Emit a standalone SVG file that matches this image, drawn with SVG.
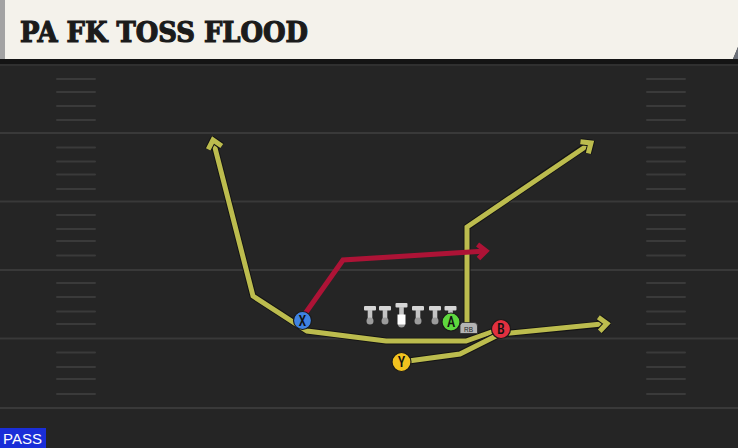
<svg xmlns="http://www.w3.org/2000/svg" width="738" height="448" viewBox="0 0 738 448">
<defs>
<style>
.major{stroke:#393939;stroke-width:2;}
.hash{stroke:#3a3a3a;stroke-width:2;stroke-linecap:round;}
.rt-o{fill:none;stroke:#141414;stroke-width:7;stroke-linejoin:miter;}
.rt-y{fill:none;stroke:#bcbc4e;stroke-width:5;stroke-linejoin:miter;}
.rt-r{fill:none;stroke:#ad1336;stroke-width:5;stroke-linejoin:miter;}
.lbl{font-family:"Roboto Condensed","Liberation Sans Narrow","Liberation Sans",sans-serif;font-size:14px;font-weight:500;fill:#111;text-anchor:middle;}
.bar{fill:#d6d6d6;}
.stem{fill:#c4c4c4;}
.ball{fill:#9c9c9c;}
.pc{stroke:#1a1a1a;stroke-width:1.2;}
</style>
<marker id="ay" viewBox="-14 -12 18 24" refX="0" refY="0" markerWidth="18" markerHeight="24" markerUnits="userSpaceOnUse" orient="auto">
<path d="M-8,-7 L0,0 L-8,7" fill="none" stroke="#141414" stroke-width="7"/>
<path d="M-8,-7 L0,0 L-8,7" fill="none" stroke="#bcbc4e" stroke-width="5"/>
</marker>
<marker id="ar" viewBox="-14 -12 18 24" refX="0" refY="0" markerWidth="18" markerHeight="24" markerUnits="userSpaceOnUse" orient="auto">
<path d="M-8,-7 L0,0 L-8,7" fill="none" stroke="#ad1336" stroke-width="5"/>
</marker>
</defs>

<!-- field -->
<rect x="0" y="0" width="738" height="448" fill="#252525"/>
<rect x="0" y="59" width="738" height="5" fill="#141414"/>
<line x1="0" y1="65" x2="738" y2="65" stroke="#303030" stroke-width="2"/>
<g id="yardlines">
<line class="major" x1="0" y1="133" x2="738" y2="133"/>
<line class="major" x1="0" y1="201.5" x2="738" y2="201.5"/>
<line class="major" x1="0" y1="270" x2="738" y2="270"/>
<line class="major" x1="0" y1="338.5" x2="738" y2="338.5"/>
<line class="major" x1="0" y1="408" x2="738" y2="408"/>
</g>
<g id="hashes">
<path class="hash" d="M57,79H95M57,92H95M57,106H95M57,120H95 M57,147.5H95M57,161.5H95M57,174.5H95M57,189H95 M57,215H95M57,229H95M57,241H95M57,255.5H95 M57,283H95M57,297H95M57,311.5H95M57,324H95 M57,352.5H95M57,367H95M57,379H95M57,394H95"/>
<path class="hash" d="M647,79H685M647,92H685M647,106H685M647,120H685 M647,147.5H685M647,161.5H685M647,174.5H685M647,189H685 M647,215H685M647,229H685M647,241H685M647,255.5H685 M647,283H685M647,297H685M647,311.5H685M647,324H685 M647,352.5H685M647,367H685M647,379H685M647,394H685"/>
</g>

<!-- header -->
<g id="header">
<path d="M0,0 H738 V47 L733,59 H0 Z" fill="#f4f2eb"/>
<path d="M738,47 L733,59 H738 Z" fill="#6b6f78"/>
<rect x="0" y="0" width="5" height="59" fill="#a3a3a3"/>
<text x="20" y="42" font-family="'DejaVu Serif',serif" font-weight="bold" font-size="27.5" fill="#1b1b1b" stroke="#1b1b1b" stroke-width="1.2" textLength="288" lengthAdjust="spacingAndGlyphs">PA FK TOSS FLOOD</text>
</g>

<!-- connectors -->
<g id="connectors">
<polyline class="rt-o" points="500,329 466,341 386,341 307,331 253,296 213.5,142"/>
<polyline class="rt-y" points="500,329 466,341 386,341 307,331 253,296 213,140" marker-end="url(#ay)"/>
<polyline class="rt-o" points="401,362 460,354 500,334 605,324"/>
<polyline class="rt-y" points="401,362 460,354 500,334 607,323.5" marker-end="url(#ay)"/>
<polyline class="rt-o" points="467,329 467,227 589,144"/>
<polyline class="rt-y" points="467,329 467,227 591,143" marker-end="url(#ay)"/>
<polyline class="rt-r" points="302,318 343,260 486,251" marker-end="url(#ar)"/>
</g>

<!-- offensive line -->
<g id="LT"><rect class="bar" x="364" y="306" width="12" height="4.5" rx="1"/><rect class="stem" x="367.7" y="310" width="4.6" height="9"/><circle class="ball" cx="370" cy="321" r="3.5"/></g>
<g id="LG"><rect class="bar" x="379" y="306" width="12" height="4.5" rx="1"/><rect class="stem" x="382.7" y="310" width="4.6" height="9"/><circle class="ball" cx="385" cy="321" r="3.5"/></g>
<g id="C"><rect class="bar" x="395.5" y="303" width="12" height="4.5" rx="1"/><rect class="stem" x="399.2" y="307" width="4.6" height="8"/><circle class="ball" cx="401.5" cy="324" r="3.5"/><rect x="397.5" y="314.5" width="8" height="10" fill="#ffffff"/></g>
<g id="RG"><rect class="bar" x="412" y="306" width="12" height="4.5" rx="1"/><rect class="stem" x="415.7" y="310" width="4.6" height="9"/><circle class="ball" cx="418" cy="321" r="3.5"/></g>
<g id="RT"><rect class="bar" x="429" y="306" width="12" height="4.5" rx="1"/><rect class="stem" x="432.7" y="310" width="4.6" height="9"/><circle class="ball" cx="435" cy="321" r="3.5"/></g>
<g id="TE"><rect class="bar" x="444.5" y="306" width="12" height="4.5" rx="1"/><rect class="stem" x="448.2" y="310" width="4.6" height="9"/></g>

<!-- skill players -->
<g id="RB"><path d="M462,322.5 H474 Q477.5,322.5 477.5,326 V333.5 H460 V325 Z" fill="#b4b4b4" stroke="#2a2a2a" stroke-width="0.8"/><text x="468.5" y="331.5" font-family="'Liberation Sans',sans-serif" font-size="6.5" fill="#222" text-anchor="middle">RB</text></g>
<g id="A"><circle class="pc" cx="451" cy="322" r="9" fill="#5ed83e"/><text class="lbl" x="451" y="327">A</text></g>
<g id="X"><circle class="pc" cx="302.5" cy="320.5" r="9" fill="#3f82e2"/><text class="lbl" x="302.5" y="325.5">X</text></g>
<g id="B"><circle class="pc" cx="501" cy="329" r="9.5" fill="#e2303f"/><text class="lbl" x="501" y="334">B</text></g>
<g id="Y"><circle class="pc" cx="401.5" cy="362" r="9.5" fill="#f1c21f"/><text class="lbl" x="401.5" y="367">Y</text></g>

<!-- play type -->
<g id="pass">
<rect x="0" y="428" width="46" height="20" fill="#1a2ed8"/>
<text x="22.5" y="444" font-family="'Liberation Sans Narrow','Liberation Sans',sans-serif" font-size="15" fill="#ffffff" text-anchor="middle">PASS</text>
</g>
</svg>
